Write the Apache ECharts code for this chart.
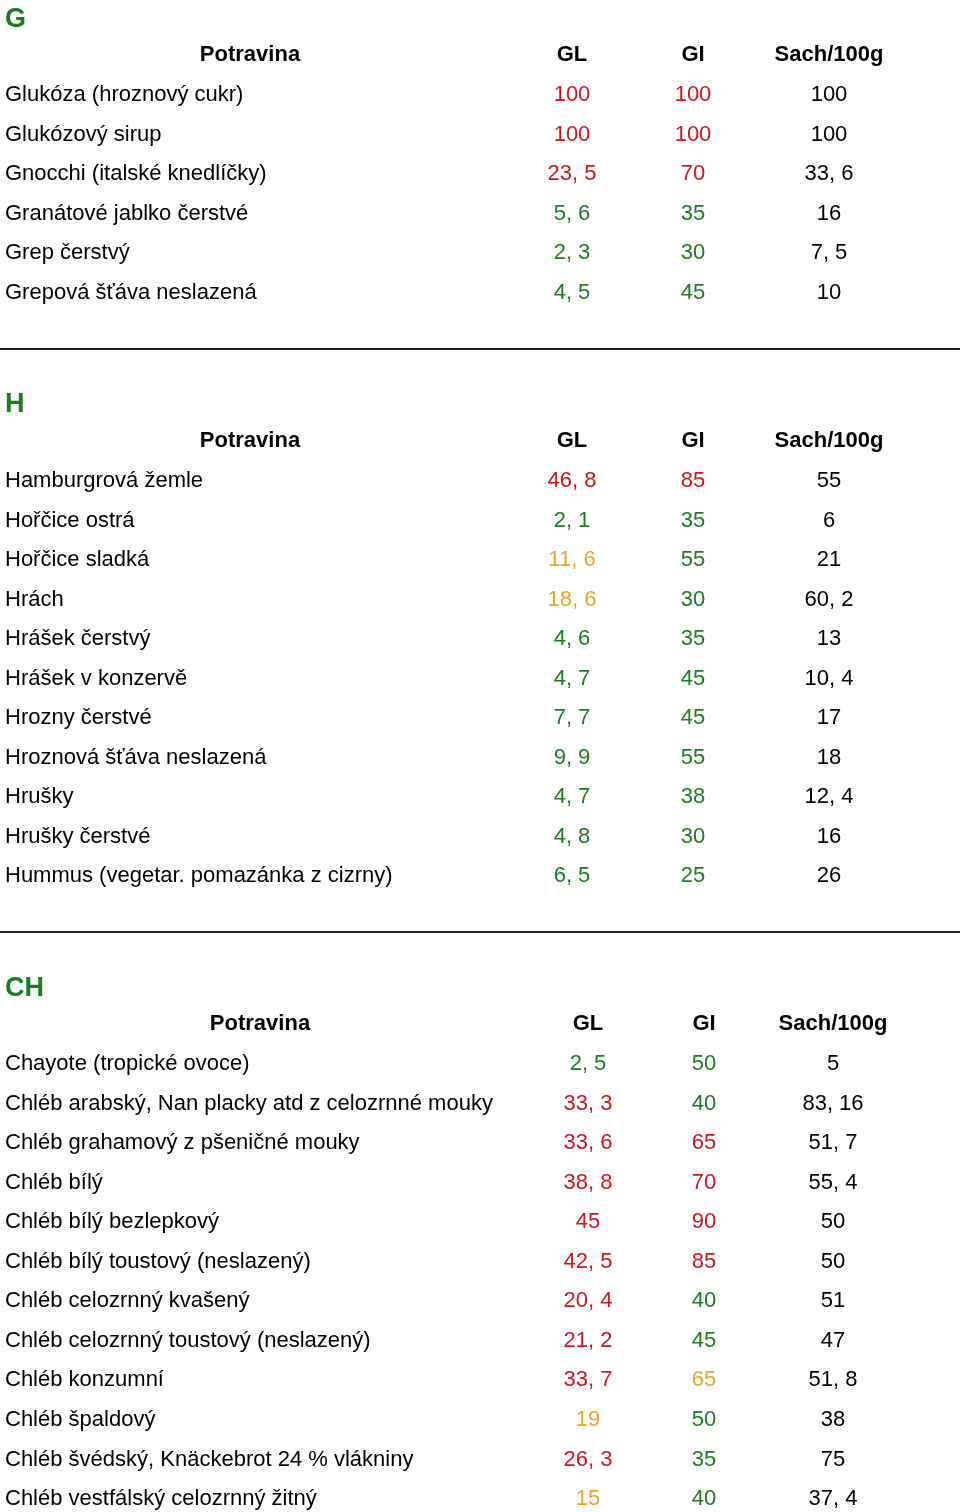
<!DOCTYPE html>
<html><head><meta charset="utf-8">
<script src="https://cdn.jsdelivr.net/npm/echarts@6/dist/echarts.min.js"></script>
<style>html,body{margin:0;padding:0;background:#fff}#c{width:960px;height:1512px}</style>
</head><body><div id="c"></div>
<script>
// ---------- DATA ----------
const columns = ['GL', 'GI', 'Sach/100g'];
const nameHeader = 'Potravina';

const gLetter = 'G';
const gNames = ['Glukóza (hroznový cukr)', 'Glukózový sirup', 'Gnocchi (italské knedlíčky)', 'Granátové jablko čerstvé', 'Grep čerstvý', 'Grepová šťáva neslazená'];
const gGL = [100, 100, 23.5, 5.6, 2.3, 4.5];
const gGLLevel = ['h', 'h', 'h', 'l', 'l', 'l'];
const gGI = [100, 100, 70, 35, 30, 45];
const gGILevel = ['h', 'h', 'h', 'l', 'l', 'l'];
const gSach = [100, 100, 33.6, 16, 7.5, 10];

const hLetter = 'H';
const hNames = ['Hamburgrová žemle', 'Hořčice ostrá', 'Hořčice sladká', 'Hrách', 'Hrášek čerstvý', 'Hrášek v konzervě', 'Hrozny čerstvé', 'Hroznová šťáva neslazená', 'Hrušky', 'Hrušky čerstvé', 'Hummus (vegetar. pomazánka z cizrny)'];
const hGL = [46.8, 2.1, 11.6, 18.6, 4.6, 4.7, 7.7, 9.9, 4.7, 4.8, 6.5];
const hGLLevel = ['h', 'l', 'm', 'm', 'l', 'l', 'l', 'l', 'l', 'l', 'l'];
const hGI = [85, 35, 55, 30, 35, 45, 45, 55, 38, 30, 25];
const hGILevel = ['h', 'l', 'l', 'l', 'l', 'l', 'l', 'l', 'l', 'l', 'l'];
const hSach = [55, 6, 21, 60.2, 13, 10.4, 17, 18, 12.4, 16, 26];

const chLetter = 'CH';
const chNames = ['Chayote (tropické ovoce)', 'Chléb arabský, Nan placky atd z celozrnné mouky', 'Chléb grahamový z pšeničné mouky', 'Chléb bílý', 'Chléb bílý bezlepkový', 'Chléb bílý toustový (neslazený)', 'Chléb celozrnný kvašený', 'Chléb celozrnný toustový (neslazený)', 'Chléb konzumní', 'Chléb špaldový', 'Chléb švédský, Knäckebrot 24 % vlákniny', 'Chléb vestfálský celozrnný žitný'];
const chGL = [2.5, 33.3, 33.6, 38.8, 45, 42.5, 20.4, 21.2, 33.7, 19, 26.3, 15];
const chGLLevel = ['l', 'h', 'h', 'h', 'h', 'h', 'h', 'h', 'h', 'm', 'h', 'm'];
const chGI = [50, 40, 65, 70, 90, 85, 40, 45, 65, 50, 35, 40];
const chGILevel = ['l', 'l', 'h', 'h', 'h', 'h', 'l', 'l', 'm', 'l', 'l', 'l'];
const chSach = [5, 83.16, 51.7, 55.4, 50, 50, 51, 47, 51.8, 38, 75, 37.4];

// ---------- STYLE / LAYOUT ----------
const FONT = "'Liberation Sans', Arial, sans-serif";
const LEVEL_COLOR = { h: '#d4141d', m: '#eca52a', l: '#1c7d21' };
const LETTER_COLOR = '#187d1c';

const sections = [
  { letter: gLetter, names: gNames, gl: gGL, glL: gGLLevel, gi: gGI, giL: gGILevel, sach: gSach },
  { letter: hLetter, names: hNames, gl: hGL, glL: hGLLevel, gi: hGI, giL: hGILevel, sach: hSach },
  { letter: chLetter, names: chNames, gl: chGL, glL: chGLLevel, gi: chGI, giL: chGILevel, sach: chSach }
];
const layout = [
  { firstRow: 95, left: 507.75, width: 385.5, giShift: 7.5, letterY: 20, headY: 55, potX: 250, lineY: 349, rowH: 39.5 },
  { firstRow: 481, left: 507.75, width: 385.5, giShift: 7.5, letterY: 405, headY: 441, potX: 250, lineY: 932, rowH: 39.5 },
  { firstRow: 1064, left: 526.75, width: 367.5, giShift: 6.5, letterY: 989, headY: 1024, potX: 260, lineY: null, rowH: 39.55 }
];

const fmt = v => String(v).replace('.', ', ');

const grid = [], xAxis = [], yAxis = [], series = [], graphic = [];
sections.forEach((s, i) => {
  const L = layout[i];
  const n = s.names.length;
  const top = L.firstRow;
  grid.push({ left: L.left, width: L.width, top: top, height: (n - 1) * L.rowH, containLabel: false });
  xAxis.push({
    type: 'category', gridIndex: i, position: 'top', data: columns,
    axisLine: { show: false }, axisTick: { show: false }, splitLine: { show: false },
    axisLabel: {
      show: true, interval: 0, margin: top - L.headY - 11,
      formatter: v => v === 'GI' ? '{gi|' + v + '}' : '{h|' + v + '}',
      rich: {
        h: { fontFamily: FONT, fontSize: 22, fontWeight: 'bold', color: '#000' },
        gi: { fontFamily: FONT, fontSize: 22, fontWeight: 'bold', color: '#000', padding: [0, L.giShift * 2, 0, 0] }
      }
    }
  });
  yAxis.push({
    type: 'category', gridIndex: i, inverse: true, data: s.names, boundaryGap: false,
    axisLine: { show: false }, axisTick: { show: false }, splitLine: { show: false },
    axisLabel: { interval: 0, align: 'left', margin: L.left - 5, fontFamily: FONT, fontSize: 22, color: '#000' }
  });
  const cols = [
    { vals: s.gl, lv: s.glL, shift: 0 },
    { vals: s.gi, lv: s.giL, shift: -L.giShift },
    { vals: s.sach, lv: null, shift: 0 }
  ];
  cols.forEach((c, ci) => {
    series.push({
      type: 'scatter', xAxisIndex: i, yAxisIndex: i, clip: false, silent: true,
      symbolSize: 1, itemStyle: { color: 'rgba(0,0,0,0)', opacity: 1 },
      label: { show: true, position: 'inside', offset: [c.shift, 0], fontFamily: FONT, fontSize: 22,
        formatter: p => fmt(p.value[2]) },
      data: c.vals.map((v, r) => ({
        value: [ci, r, v],
        label: { color: c.lv ? LEVEL_COLOR[c.lv[r]] : '#000' }
      }))
    });
  });
  graphic.push({ type: 'text', x: 5, y: L.letterY, style: { text: s.letter, font: 'bold 27px ' + FONT, fill: LETTER_COLOR, textAlign: 'left', textVerticalAlign: 'middle' } });
  graphic.push({ type: 'text', x: L.potX, y: L.headY, style: { text: nameHeader, font: 'bold 22px ' + FONT, fill: '#000', textAlign: 'center', textVerticalAlign: 'middle' } });
  if (L.lineY !== null) {
    graphic.push({ type: 'line', shape: { x1: 0, y1: L.lineY, x2: 960, y2: L.lineY }, style: { stroke: '#222', lineWidth: 2 } });
  }
});

const chart = echarts.init(document.getElementById('c'), null, { renderer: 'canvas' });
chart.setOption({ backgroundColor: '#fff', animation: false, grid, xAxis, yAxis, series, graphic });
</script></body></html>
